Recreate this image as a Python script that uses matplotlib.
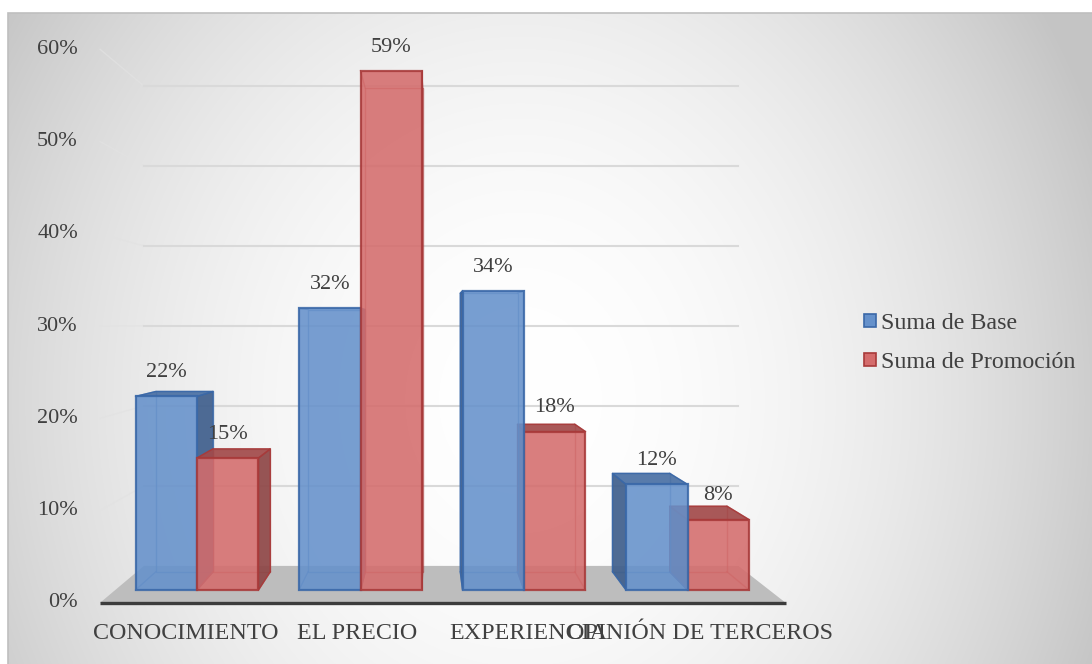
import matplotlib.pyplot as plt
import numpy as np
from matplotlib.patches import Polygon, Patch, Rectangle

categories = ["CONOCIMIENTO", "EL PRECIO", "EXPERIENCIA", "OPINIÓN DE TERCEROS"]
series_names = ["Suma de Base", "Suma de Promoción"]
base = [22, 32, 34, 12]
promocion = [15, 59, 18, 8]
y_ticks = [0, 10, 20, 30, 40, 50, 60]

plt.rcParams["font.family"] = ["Liberation Serif", "DejaVu Serif"]
TEXT = "#404040"
FS = 16       # numbers
FS_WORDS = 17.3  # category names and legend

# face / edge / side / top colours per series
face = ["#6591cb", "#d46c6c"]
edge = ["#3a68a8", "#a83a3a"]
side = ["#3f5f8c", "#8e4646"]
top = ["#4a70a4", "#a24a4a"]

W, H, DPI = 1092, 664, 100
fig = plt.figure(figsize=(W / DPI, H / DPI), dpi=DPI)
fig.patch.set_facecolor("white")

# chart area with a soft radial shading
bg = fig.add_axes([8 / W, 0, 1 - 8 / W, 1 - 13 / H])
xx, yy = np.meshgrid(np.arange(8, W), np.arange(13, H))
d = np.hypot((xx - 520) / 650, (yy - 400) / 750)
shade = np.clip(1 - 0.25 * d ** 2, 0.77, 1)
bg.imshow(np.dstack([shade] * 3), aspect="auto", extent=(0, 1, 0, 1))
bg.set_xlim(0, 1)
bg.set_ylim(0, 1)
bg.set_axis_off()
fig.patches.append(Rectangle((8 / W, -0.01), 1, 1 - 13 / H + 0.01,
                             transform=fig.transFigure, fill=False,
                             ec="#bfbfbf", lw=1.2))

# main axes: x in category units, y in percent (front plane of the bars)
ax = fig.add_axes([0, 0, 1, 1])
ax.patch.set_alpha(0)
ax.set_axis_off()
CAT_PX, X0_PX, BASE_PX, PCT_PX = 163.5, 197, 590, 8.8
ax.set_xlim(-X0_PX / CAT_PX, (W - X0_PX) / CAT_PX)
ax.set_ylim((BASE_PX - H) / PCT_PX, BASE_PX / PCT_PX)

# simple one-point perspective
VX, VY = 1.425, 30.1
FRONT_WALL, BAR_BACK, BACK_WALL = 1.048, 0.931, 0.909


def proj(x, y, f):
    return VX + f * (x - VX), VY + f * (y - VY)


n = len(categories)
x_lo, x_hi = -0.5, n - 0.5

# floor
floor = [proj(x_lo, 0, FRONT_WALL), proj(x_hi, 0, FRONT_WALL),
         proj(x_hi, 0, BACK_WALL), proj(x_lo, 0, BACK_WALL)]
ax.add_patch(Polygon(floor, closed=True, fc="#bdbdbd", ec="none", zorder=1))
ax.plot([floor[0][0], floor[1][0]], [floor[0][1], floor[1][1]],
        color="#3c3c3c", lw=2.4, zorder=2, solid_capstyle="butt")

# gridlines on side wall and back wall
for t in y_ticks[1:]:
    p0 = proj(x_lo, t, FRONT_WALL)
    p1 = proj(x_lo, t, BACK_WALL)
    p2 = proj(x_hi, t, BACK_WALL)
    ax.plot([p0[0], p1[0]], [p0[1], p1[1]], color="#e2e2e2", lw=1.0,
            alpha=0.7, zorder=1)
    ax.plot([p1[0], p2[0]], [p1[1], p2[1]], color="#d9d9d9", lw=1.5, zorder=1)

# y tick labels
for t in y_ticks:
    ax.annotate(f"{t}%", xy=proj(x_lo, t, FRONT_WALL), xytext=(-16, 0),
                textcoords="offset points", ha="right", va="center",
                fontsize=FS, color=TEXT)

# category labels
for i, c in enumerate(categories):
    ax.annotate(c, xy=proj(i, 0, FRONT_WALL), xytext=(0, -22),
                textcoords="offset points", ha="center", va="center",
                fontsize=FS_WORDS, color=TEXT)

# bars, painted from the outside towards the vanishing point
BAR_W = 0.376
bars = []
for i in range(n):
    bars.append((i - BAR_W, base[i], 0))
    bars.append((i, promocion[i], 1))
bars.sort(key=lambda b: -abs(b[0] + BAR_W / 2 - VX))

z = 3
for x0, h, s in bars:
    x1 = x0 + BAR_W
    fc = [(x0, 0), (x1, 0), (x1, h), (x0, h)]
    bc = [proj(px, py, BAR_BACK) for px, py in fc]
    # back edges, seen through the transparent front
    ax.add_patch(Polygon(bc, closed=True, fill=False, ec=edge[s], lw=1,
                         alpha=0.6, zorder=z))
    for a, b in zip(fc, bc):
        ax.plot([a[0], b[0]], [a[1], b[1]], color=edge[s], lw=1, alpha=0.6,
                zorder=z)
    if x1 < VX:
        ax.add_patch(Polygon([fc[1], fc[2], bc[2], bc[1]], closed=True,
                             fc=side[s], ec=edge[s], lw=1, alpha=0.92, zorder=z))
    elif x0 > VX:
        ax.add_patch(Polygon([fc[0], fc[3], bc[3], bc[0]], closed=True,
                             fc=side[s], ec=edge[s], lw=1, alpha=0.92, zorder=z))
    if h < VY:
        ax.add_patch(Polygon([fc[3], fc[2], bc[2], bc[3]], closed=True,
                             fc=top[s], ec=edge[s], lw=1, alpha=0.92, zorder=z))
    ax.bar(x0, h, width=BAR_W, align="edge", color=face[s], alpha=0.88,
           edgecolor=edge[s], linewidth=1.6, zorder=z + 0.5)
    ax.annotate(f"{h}%", xy=(x0 + BAR_W / 2, h), xytext=(0, 17),
                textcoords="offset points", ha="center", va="center",
                fontsize=FS, color=TEXT, zorder=50)
    z += 1

handles = [Patch(fc=face[k], ec=edge[k], lw=1.2) for k in range(2)]
ax.legend(handles, series_names, loc="center left",
          bbox_to_anchor=(864 / W, 1 - 343 / H), bbox_transform=fig.transFigure,
          frameon=False, fontsize=FS_WORDS, labelcolor=TEXT, handlelength=0.5,
          handleheight=0.5, handletextpad=0.2, labelspacing=0.75,
          borderpad=0, borderaxespad=0)

fig.savefig("out.png", dpi=DPI)
